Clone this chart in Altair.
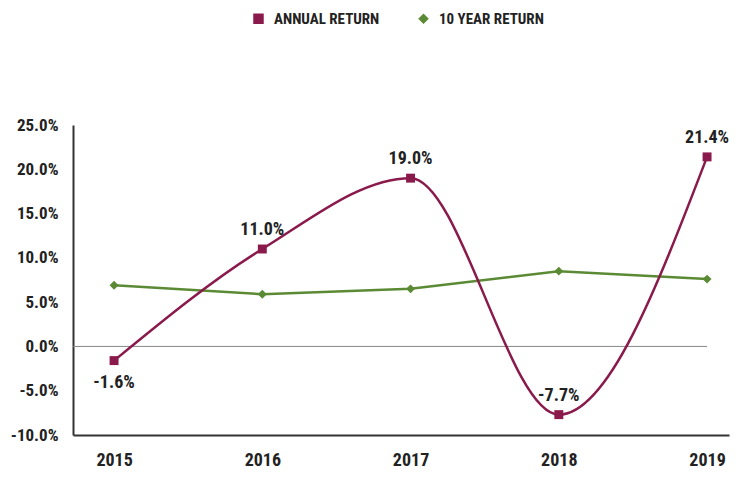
import altair as alt
import pandas as pd

years = [2015, 2016, 2017, 2018, 2019]
annual_return = [-1.6, 11.0, 19.0, -7.7, 21.4]
ten_year_return = [6.9, 5.9, 6.5, 8.5, 7.6]
series_names = ["ANNUAL RETURN", "10 YEAR RETURN"]
y_ticks = [-10, -5, 0, 5, 10, 15, 20, 25]

FONT = "Roboto Condensed, Roboto"
RED = "#8a1a4b"
GREEN = "#5b8a34"
FS = 18

rows = []
for y, a, t in zip(years, annual_return, ten_year_return):
    rows.append({"year": y, "value": a, "series": series_names[0]})
    rows.append({"year": y, "value": t, "series": series_names[1]})
df = pd.DataFrame(rows)
ann = df[df.series == series_names[0]]
ten = df[df.series == series_names[1]]

x_scale = alt.Scale(domain=[2014.723, 2019.148], nice=False, zero=False)
y_scale = alt.Scale(domain=[-10, 25], nice=False)
color_scale = alt.Scale(domain=series_names, range=[RED, GREEN])
shape_scale = alt.Scale(domain=series_names, range=["square", "diamond"])

x_enc = alt.X("year:Q", scale=x_scale,
              axis=alt.Axis(values=years, format="d", title=None, ticks=False, grid=False,
                            domainColor="#333333", domainWidth=2, labelFont=FONT,
                            labelFontSize=FS, labelFontWeight="bold", labelColor="#222222",
                            labelPadding=16, labelFlush=False))
y_enc = alt.Y("value:Q", scale=y_scale,
              axis=alt.Axis(values=y_ticks, title=None, ticks=False, grid=False,
                            labelExpr="replace(format(datum.value, '.1f'), '\u2212', '-') + '%'",
                            domainColor="#333333", domainWidth=2, labelFont=FONT,
                            labelFontSize=17, labelFontWeight="bold", labelColor="#222222",
                            labelPadding=15))

zero = alt.Chart(pd.DataFrame({"y": [0]})).mark_rule(color="#888888", strokeWidth=1).encode(
    x=alt.datum(2014.723, scale=x_scale), x2=alt.datum(2019), y=alt.Y("y:Q", scale=y_scale)
)

ten_line = alt.Chart(ten).mark_line(color=GREEN, strokeWidth=2.5).encode(x=x_enc, y=y_enc)
ann_line = alt.Chart(ann).mark_line(color=RED, strokeWidth=2.5, interpolate="monotone").encode(
    x=x_enc, y=y_enc)

points = alt.Chart(df).mark_point(filled=True, opacity=1, size=80).encode(
    x=x_enc, y=y_enc,
    color=alt.Color("series:N", scale=color_scale,
                    legend=alt.Legend(title=None, orient="none", direction="horizontal",
                                      legendX=178, legendY=-114, labelFont=FONT,
                                      labelFontSize=15, labelFontWeight="bold",
                                      labelColor="#222222", symbolSize=110,
                                      columnPadding=36, labelOffset=8)),
    shape=alt.Shape("series:N", scale=shape_scale, legend=None),
)

labels_above = alt.Chart(ann).transform_filter("datum.year != 2015").transform_calculate(
    t="replace(format(datum.value, '.1f'), '\u2212', '-') + '%'").mark_text(
    font=FONT, fontSize=FS, fontWeight="bold", color="#222222", dy=-19, baseline="middle"
).encode(x=x_enc, y=y_enc, text="t:N")
labels_below = alt.Chart(ann).transform_filter("datum.year == 2015").transform_calculate(
    t="replace(format(datum.value, '.1f'), '\u2212', '-') + '%'").mark_text(
    font=FONT, fontSize=FS, fontWeight="bold", color="#222222", dy=22, baseline="middle"
).encode(x=x_enc, y=y_enc, text="t:N")

chart = alt.layer(zero, ten_line, ann_line, points, labels_above, labels_below).properties(
    width=656, height=310,
    autosize=alt.AutoSizeParams(type="none"),
    padding={"left": 65, "top": 117, "right": 2, "bottom": 37},
).configure(background="white").configure_view(stroke=None)

chart.save("out.html", embed_options={"renderer": "svg", "actions": False})
